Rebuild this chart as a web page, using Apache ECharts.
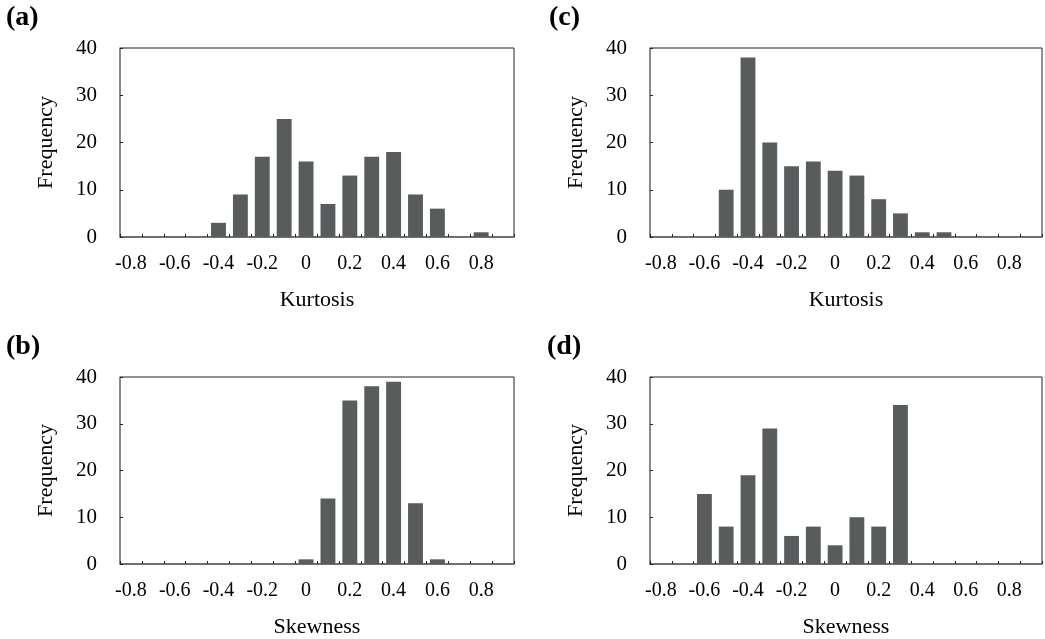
<!DOCTYPE html>
<html>
<head>
<meta charset="utf-8">
<script src="https://cdn.jsdelivr.net/npm/echarts@6/dist/echarts.min.js"></script>
<style>
html,body{margin:0;padding:0;background:#fff;}
#chart{width:1045px;height:639px;}
</style>
</head>
<body>
<div id="chart"></div>
<script>
// Data
var categories = ['-0.8','-0.7','-0.6','-0.5','-0.4','-0.3','-0.2','-0.1','0','0.1','0.2','0.3','0.4','0.5','0.6','0.7','0.8','0.9'];
var yTicks = [0, 10, 20, 30, 40];
var panelLabels = ['(a)', '(c)', '(b)', '(d)'];
var axisNames = ['Kurtosis', 'Kurtosis', 'Skewness', 'Skewness'];
var valuesA = [0,0,0,0,3,9,17,25,16,7,13,17,18,9,6,0,1,0];
var valuesC = [0,0,0,10,38,20,15,16,14,13,8,5,1,1,0,0,0,0];
var valuesB = [0,0,0,0,0,0,0,0,1,14,35,38,39,13,1,0,0,0];
var valuesD = [0,0,15,8,19,29,6,8,4,10,8,34,0,0,0,0,0,0];
var seriesValues = [valuesA, valuesC, valuesB, valuesD];

var font = 'Liberation Serif';
var grids = [
  {left: 120, top: 48, width: 394, height: 189},
  {left: 650, top: 48, width: 392, height: 189},
  {left: 120, top: 377, width: 394, height: 188},
  {left: 650, top: 377, width: 392, height: 188}
];
var labelPos = [
  {left: 6, top: 4}, {left: 549, top: 4},
  {left: 6, top: 333}, {left: 547, top: 333}
];

var option = {
  animation: false,
  backgroundColor: '#fff',
  title: panelLabels.map(function (t, i) {
    return {text: t, left: labelPos[i].left, top: labelPos[i].top, padding: 0,
      textStyle: {fontFamily: font, fontWeight: 'bold', fontSize: 28, color: '#000'}};
  }),
  grid: grids.map(function (g) {
    return {left: g.left, top: g.top, width: g.width, height: g.height,
      show: true, borderColor: '#222', borderWidth: 1, backgroundColor: '#fff'};
  }),
  xAxis: grids.map(function (g, i) {
    return {
      type: 'category', gridIndex: i, data: categories,
      name: axisNames[i], nameLocation: 'middle', nameGap: 52,
      nameTextStyle: {fontFamily: font, fontSize: 22, color: '#000'},
      axisLine: {show: true, lineStyle: {color: '#666', width: 1.5}},
      axisTick: {show: true, inside: true, length: 3, interval: 0, lineStyle: {color: '#222'}},
      axisLabel: {interval: 1, margin: 17, fontFamily: font, fontSize: 20, color: '#000'},
      splitLine: {show: false}
    };
  }),
  yAxis: grids.map(function (g, i) {
    return {
      type: 'value', gridIndex: i, min: yTicks[0], max: yTicks[yTicks.length - 1], interval: 10,
      name: 'Frequency', nameLocation: 'middle', nameGap: 63,
      nameTextStyle: {fontFamily: font, fontSize: 22, color: '#000'},
      axisLine: {show: true, lineStyle: {color: '#888', width: 1.5}},
      axisTick: {show: true, inside: true, length: 3, lineStyle: {color: '#222'}},
      axisLabel: {margin: 23, fontFamily: font, fontSize: 21, color: '#000'},
      splitLine: {show: false}
    };
  }),
  series: seriesValues.map(function (vals, i) {
    return {
      type: 'bar', xAxisIndex: i, yAxisIndex: i, data: vals,
      barWidth: '68%',
      itemStyle: {color: '#595c5d'}
    };
  })
};

var chart = echarts.init(document.getElementById('chart'), null, {renderer: 'canvas'});
chart.setOption(option);
</script>
</body>
</html>
